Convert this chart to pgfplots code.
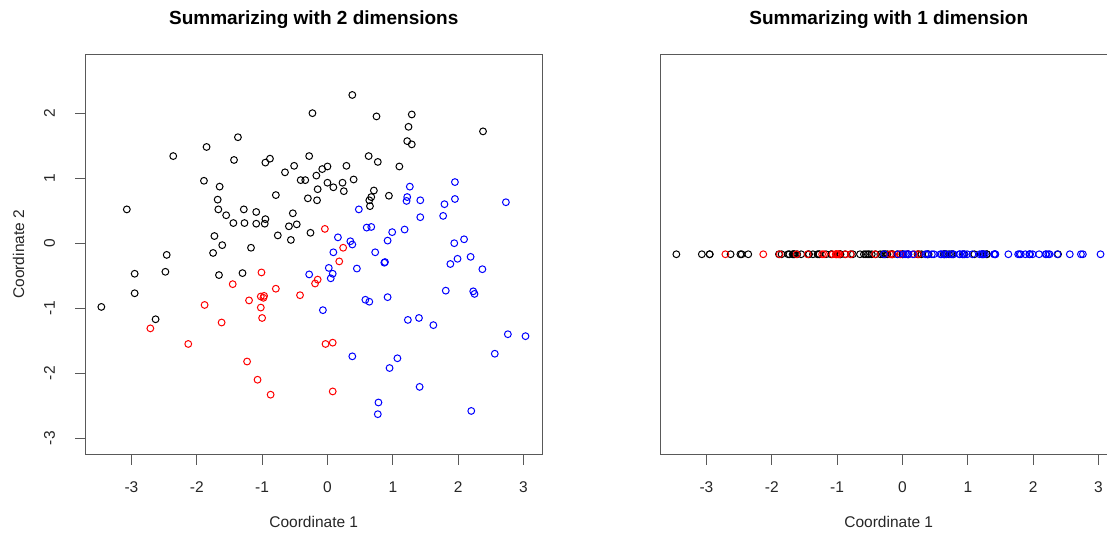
\documentclass[border=0pt]{standalone}
\usepackage{fontspec}
\setmainfont{Liberation Sans}
\usepackage{pgfplots}
\pgfplotsset{compat=1.18}
\usepackage{pgfplotstable}

\pgfplotstableread{
x y
-3.07 0.52
-2.36 1.34
-1.85 1.48
-1.37 1.63
-1.43 1.28
-0.95 1.24
-0.88 1.30
-0.23 2.00
-0.28 1.34
-0.51 1.19
-0.65 1.09
-0.41 0.97
-0.34 0.97
-0.17 1.04
-1.89 0.96
-1.65 0.87
-0.79 0.74
-0.30 0.69
-0.16 0.66
-1.68 0.67
-1.67 0.52
-1.55 0.43
-1.28 0.52
-1.09 0.48
-0.95 0.37
-1.44 0.31
-1.27 0.31
-1.09 0.30
-0.96 0.30
-0.53 0.46
-0.59 0.26
-0.47 0.29
-0.26 0.16
-0.76 0.12
-0.56 0.05
-1.73 0.11
-1.61 -0.03
-1.17 -0.07
0.38 2.28
0.75 1.95
1.29 1.98
1.24 1.79
1.22 1.57
1.29 1.52
2.38 1.72
0.63 1.34
0.77 1.25
1.10 1.18
0.29 1.19
0.00 1.18
-0.08 1.14
0.40 0.98
0.23 0.93
0.00 0.93
0.09 0.86
-0.15 0.83
0.25 0.80
0.71 0.81
0.67 0.71
0.64 0.66
0.65 0.57
0.94 0.73
-3.46 -0.98
-2.95 -0.47
-2.95 -0.77
-2.46 -0.18
-2.48 -0.44
-2.63 -1.17
-1.75 -0.15
-1.66 -0.49
-1.30 -0.46
}\blackdata

\pgfplotstableread{
x y
-0.04 0.22
0.24 -0.07
-2.71 -1.31
-2.13 -1.55
-1.88 -0.95
-1.62 -1.22
-1.45 -0.63
-1.01 -0.45
-1.20 -0.88
-1.02 -0.82
-0.97 -0.81
-0.98 -0.84
-1.02 -0.99
-1.00 -1.15
-0.79 -0.70
-0.42 -0.80
-1.23 -1.82
-1.07 -2.10
-0.87 -2.33
-0.15 -0.56
-0.19 -0.62
0.18 -0.28
-0.03 -1.55
0.08 -1.53
0.08 -2.28
}\reddata

\pgfplotstableread{
x y
1.26 0.87
1.95 0.94
1.22 0.71
1.21 0.65
1.42 0.66
1.95 0.68
1.79 0.60
2.73 0.63
0.48 0.52
1.42 0.40
1.77 0.42
0.60 0.24
0.67 0.25
1.18 0.21
0.99 0.17
0.92 0.04
0.16 0.09
0.35 0.03
0.38 -0.02
2.09 0.06
1.94 0.00
-0.28 -0.48
0.09 -0.14
0.73 -0.14
0.87 -0.30
0.88 -0.29
0.45 -0.39
0.02 -0.38
0.08 -0.47
0.05 -0.54
1.88 -0.32
1.99 -0.24
2.19 -0.21
2.37 -0.40
1.81 -0.73
2.23 -0.74
2.25 -0.78
0.58 -0.87
0.64 -0.90
0.92 -0.83
-0.07 -1.03
1.23 -1.18
1.40 -1.15
1.62 -1.26
2.76 -1.40
3.03 -1.43
2.56 -1.70
0.38 -1.74
1.07 -1.77
0.95 -1.92
1.41 -2.21
0.78 -2.45
0.77 -2.63
2.20 -2.58
}\bluedata

\pgfplotsset{
  rstyle/.style={
    scale only axis,
    width=457.5pt, height=400.5pt,
    anchor=south west,
    xmin=-3.71, xmax=3.29,
    axis line style={black!65, line width=0.9pt},
    tick style={black!65, line width=0.9pt},
    tick align=outside,
    major tick length=10pt,
    tick pos=left,
    xtick={-3,-2,-1,0,1,2,3},
    xticklabels={-3,-2,-1,0,1,2,3},
    ticklabel style={font=\fontsize{15.5}{18}\selectfont, text=black!85},
    xticklabel style={anchor=base, yshift=-28pt},
    label style={font=\fontsize{15.5}{18}\selectfont, text=black!85},
    xlabel style={at={(axis description cs:0.5,-0.1835)}, anchor=base},
    title style={at={(axis description cs:0.5,1.0599)}, anchor=base,
                 font=\bfseries\fontsize{19}{22}\selectfont},
    clip=false,
  },
  rmark/.style={only marks, mark=o, mark size=3.4pt, line width=1pt, color=#1, mark options={line width=1pt}},
}

\begin{document}
\begin{tikzpicture}
\useasboundingbox (0pt,0pt) rectangle (1107pt,533pt);
\begin{axis}[rstyle, at={(85pt,78.5pt)},
  ymin=-3.25, ymax=2.91,
  ytick={-3,-2,-1,0,1,2},
  yticklabels={-3,-2,-1,0,1,2},
  yticklabel style={rotate=90, anchor=base, yshift=20pt},
  ylabel style={at={(axis description cs:-0.1329,0.5)}, anchor=base, rotate=0},
  title={Summarizing with 2 dimensions},
  xlabel={Coordinate 1},
  ylabel={Coordinate 2},
]
\addplot[rmark=black] table[x=x,y=y] {\blackdata};
\addplot[rmark=red] table[x=x,y=y] {\reddata};
\addplot[rmark=blue] table[x=x,y=y] {\bluedata};
\end{axis}
\begin{axis}[rstyle, at={(660pt,78.5pt)},
  ymin=-1, ymax=1,
  ytick=\empty,
  title={Summarizing with 1 dimension},
  xlabel={Coordinate 1},
]
\addplot[rmark=black] table[x=x,y expr=0] {\blackdata};
\addplot[rmark=red] table[x=x,y expr=0] {\reddata};
\addplot[rmark=blue] table[x=x,y expr=0] {\bluedata};
\end{axis}
\end{tikzpicture}
\end{document}
